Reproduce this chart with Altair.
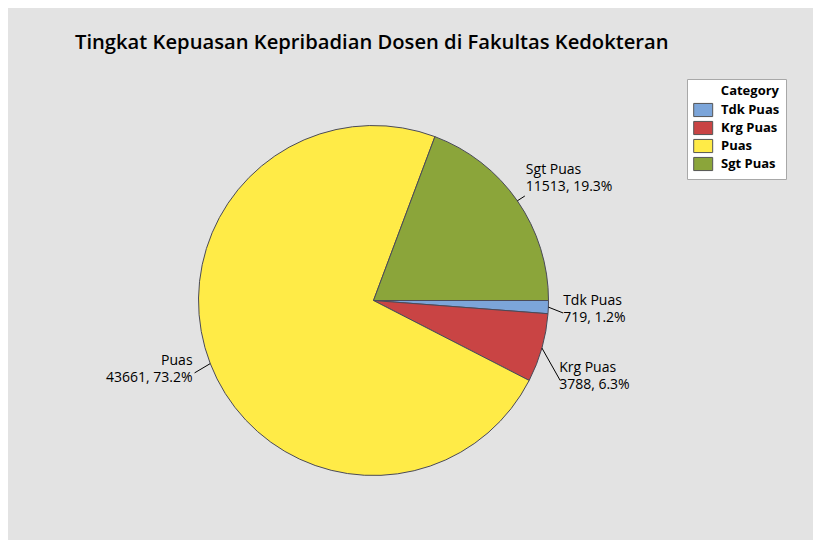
import math
import altair as alt
import pandas as pd

# ---- data ----
categories = ["Tdk Puas", "Krg Puas", "Puas", "Sgt Puas"]
counts = [719, 3788, 43661, 11513]
colors = ["#7CA5D9", "#C94444", "#FFEB47", "#8BA53A"]
title_text = "Tingkat Kepuasan Kepribadian Dosen di Fakultas Kedokteran"

# ---- layout (pixels) ----
W, H = 805, 532
CX, CY, R = 365.5, 292.5, 175.0
label_r = [1.086, 1.16, 1.103, 1.051]      # leader end radius (pie radii)
label_dphi = [1.6, 7.4, -0.9, 0.1]         # angular nudge of leader end (deg)
label_dy = [-8, -8, -8, -22]               # first text baseline vs leader end (px, down)
label_dx = [0, -1, -2, 1]                  # text x vs leader end (px)
label_side = ["left", "left", "right", "left"]
LINE = 17
FONT = "Open Sans"

total = sum(counts)
rows = []
cum = 0.0
for i, (c, n) in enumerate(zip(categories, counts)):
    frac = n / total
    mid = (cum + frac / 2) * 2 * math.pi   # clockwise from 3 o'clock
    cum += frac
    ph = mid + math.radians(label_dphi[i])
    ex, ey = label_r[i] * math.cos(ph), -label_r[i] * math.sin(ph)
    rows.append(dict(
        idx=i, cat=c, n=n,
        lab=f"{c}\n{n}, {100 * frac:.1f}%",
        sx=math.cos(mid), sy=-math.sin(mid),
        ex=ex, ey=ey,
        tx=ex + label_dx[i] / R, ty=ey - label_dy[i] / R,
        side=label_side[i],
    ))
df = pd.DataFrame(rows)

xs = alt.Scale(domain=[-CX / R, (W - CX) / R], nice=False, zero=False)
ys = alt.Scale(domain=[-(H - CY) / R, CY / R], nice=False, zero=False)

base = alt.Chart(df)

pie = base.mark_arc(outerRadius=R, stroke="#4A4A58", strokeWidth=1).encode(
    x=alt.XDatum(0, type="quantitative", scale=xs, axis=None),
    y=alt.YDatum(0, type="quantitative", scale=ys, axis=None),
    theta=alt.Theta("n:Q", stack=True,
                    scale=alt.Scale(range=[math.pi / 2, math.pi / 2 + 2 * math.pi])),
    color=alt.Color("cat:N", sort=categories,
                    scale=alt.Scale(domain=categories, range=colors),
                    legend=alt.Legend(
                        title="Category", orient="none", legendX=679, legendY=71,
                        fillColor="white", strokeColor="#A8A8A8", padding=6,
                        titleFont=FONT, titleFontSize=13, titleFontWeight="bold",
                        titleColor="black", titleAnchor="end", titlePadding=4,
                        labelFont=FONT, labelFontSize=13, labelFontWeight="bold",
                        labelColor="black", labelOffset=12,
                        symbolType="M-1,-0.9H1.6V0.9H-1Z", symbolSize=213,
                        symbolStrokeColor="#555555", symbolStrokeWidth=1,
                        rowPadding=0)),
    order=alt.Order("idx:Q"),
)

leaders = base.mark_rule(color="black", strokeWidth=1).encode(
    x=alt.X("sx:Q", scale=xs, axis=None),
    y=alt.Y("sy:Q", scale=ys, axis=None),
    x2="ex:Q", y2="ey:Q",
)

def label_layer(side):
    return base.transform_filter(alt.datum.side == side).mark_text(
        align=side, baseline="alphabetic", font=FONT, fontSize=14,
        lineBreak="\n", lineHeight=LINE, color="black").encode(
        x=alt.X("tx:Q", scale=xs, axis=None),
        y=alt.Y("ty:Q", scale=ys, axis=None),
        text="lab:N")

title = alt.Chart(pd.DataFrame({"t": [title_text]})).mark_text(
    align="left", baseline="alphabetic", font=FONT, fontSize=20.2,
    fontWeight=600, color="black").encode(
    x=alt.value(67), y=alt.value(41), text="t:N")

chart = alt.layer(
    pie, leaders, label_layer("left"), label_layer("right"), title
).properties(
    width=W, height=H, padding=0, background="#E3E3E3",
    autosize=alt.AutoSizeParams(type="fit", contains="padding"),
).configure_view(stroke=None)

chart.save("out.html", embed_options={"renderer": "svg", "actions": False})
